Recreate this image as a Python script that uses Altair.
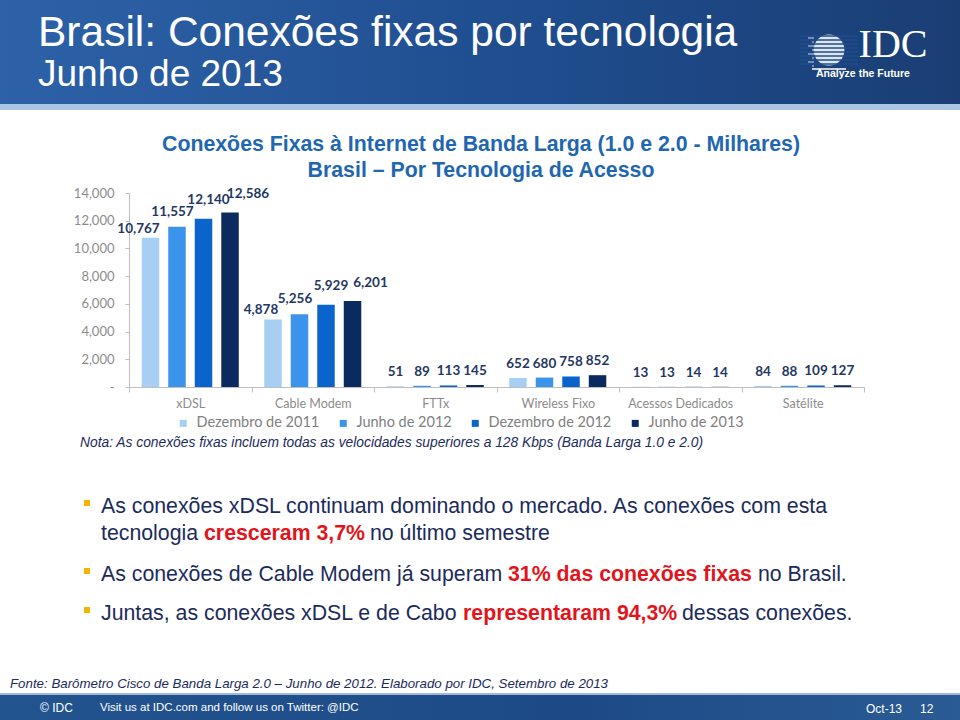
import altair as alt
import pandas as pd

# ---------------- data ----------------
CATS = ["xDSL", "Cable Modem", "FTTx", "Wireless Fixo", "Acessos Dedicados", "Satélite"]
PERIODS = ["Dezembro de 2011", "Junho de 2012", "Dezembro de 2012", "Junho de 2013"]
COLORS = ["#a7cff4", "#3b93ec", "#0b64cc", "#0b2a5f"]
DEZ_2011 = [10767, 4878, 51, 652, 13, 84]
JUN_2012 = [11557, 5256, 89, 680, 13, 88]
DEZ_2012 = [12140, 5929, 113, 758, 14, 109]
JUN_2013 = [12586, 6201, 145, 852, 14, 127]
Y_TICKS = [0, 2000, 4000, 6000, 8000, 10000, 12000, 14000]

HEADER_TITLE = "Brasil: Conexões fixas por tecnologia"
HEADER_SUB = "Junho de 2013"
LOGO = ["IDC", "Analyze the Future"]
CHART_TITLE = ["Conexões Fixas à Internet de Banda Larga (1.0 e 2.0 - Milhares)",
               "Brasil – Por Tecnologia de Acesso"]
NOTE = "Nota: As conexões fixas incluem todas as velocidades superiores a 128 Kbps (Banda Larga 1.0 e 2.0)"
BULLET_LINES = [
    [("As conexões xDSL continuam dominando o mercado. As conexões com esta", False)],
    [("tecnologia", False), ("cresceram 3,7%", True), ("no último semestre", False)],
    [("As conexões de Cable Modem já superam", False), ("31% das conexões fixas", True), ("no Brasil.", False)],
    [("Juntas, as conexões xDSL e de Cabo", False), ("representaram 94,3%", True), ("dessas conexões.", False)],
]
SOURCE = "Fonte: Barômetro Cisco de Banda Larga 2.0 – Junho de 2012. Elaborado por IDC, Setembro de 2013"
FOOTER = ["© IDC", "Visit us at IDC.com and follow us on Twitter: @IDC", "Oct-13", "12"]

series = [DEZ_2011, JUN_2012, DEZ_2012, JUN_2013]
rows = []
for p, vals in zip(PERIODS, series):
    for c, v in zip(CATS, vals):
        rows.append({"cat": c, "period": p, "value": v})
df = pd.DataFrame(rows)

# ---------------- layout helpers ----------------
X0, Y0 = 129, 193          # plot origin on the page
W, H = 735, 194            # plot size
SANS = "Liberation Sans"
CAL = "Lato"
NAVY = "#1b2b5c"
RED = "#e3141b"


def px(x):
    return x - X0


def py(y):
    return y - Y0


def text_layer(s, x, y, size, color, font=SANS, weight="normal", style="normal", align="left", opacity=1.0):
    return alt.Chart(alt.Data(values=[{"t": s}])).mark_text(
        align=align, baseline="middle", font=font, fontSize=size, color=color,
        fontWeight=weight, fontStyle=style, opacity=opacity
    ).encode(x=alt.value(px(x)), y=alt.value(py(y)), text="t:N")


def rect_layer(x1, x2, y1, y2, fill):
    return alt.Chart(alt.Data(values=[{}])).mark_rect(fill=fill, strokeWidth=0).encode(
        x=alt.value(px(x1)), x2=alt.value(px(x2)), y=alt.value(py(y1)), y2=alt.value(py(y2))
    )


def rule_layer(x1, x2, y, color, width=1.0, opacity=1.0):
    return alt.Chart(alt.Data(values=[{}])).mark_rule(color=color, strokeWidth=width, opacity=opacity).encode(
        x=alt.value(px(x1)), x2=alt.value(px(x2)), y=alt.value(py(y))
    )


header_grad = alt.LinearGradient(
    gradient="linear", x1=0, x2=1, y1=0, y2=0,
    stops=[alt.GradientStop(color="#2d62a8", offset=0),
           alt.GradientStop(color="#1f4d8e", offset=0.55),
           alt.GradientStop(color="#1a3e74", offset=1)])

layers = []
# header
layers.append(rect_layer(0, 960, 0, 105, header_grad))
layers.append(rect_layer(0, 960, 104, 110, "#a9c5e3"))
layers.append(text_layer(HEADER_TITLE, 38, 33, 42.5, "white"))
layers.append(text_layer(HEADER_SUB, 38, 75, 37, "white"))
# logo
layers.append(alt.Chart(alt.Data(values=[{}])).mark_circle(size=950, color="#dfe3ea", opacity=1).encode(
    x=alt.value(px(829)), y=alt.value(py(50))))
for i, yy in enumerate(range(36, 66, 4)):
    layers.append(rule_layer(800, 858, yy, "#1f4d8e", 1.4))
    layers.append(rule_layer(808 + (i % 2) * 4, 814, yy + 2, "white", 1.0, 0.8))
layers.append(rule_layer(812, 846, 69, "#c9d0dc", 2))
layers.append(text_layer(LOGO[0], 893, 45, 40, "white", font="Liberation Serif", align="center"))
layers.append(text_layer(LOGO[1], 863, 74, 10.5, "white", weight="bold", align="center"))

# chart title
layers.append(text_layer(CHART_TITLE[0], 481, 145, 21.3, "#1f67b1", weight="bold", align="center"))
layers.append(text_layer(CHART_TITLE[1], 481, 171, 21.3, "#1f67b1", weight="bold", align="center"))

# bars
x_enc = alt.X("cat:N", sort=CATS, title=None,
              scale=alt.Scale(paddingInner=0, paddingOuter=0),
              axis=alt.Axis(labelAngle=0, labelColor="#8c8c8c", labelFont=CAL, labelFontSize=12.5,
                            tickBand="extent", tickSize=5, tickColor="#bfbfbf", domainColor="#bfbfbf",
                            labelPadding=5, grid=False))
xo_enc = alt.XOffset("period:N", sort=PERIODS, scale=alt.Scale(paddingInner=0.34, paddingOuter=0.48))
y_enc = alt.Y("value:Q", title=None, scale=alt.Scale(domain=[0, 14000], nice=False),
              axis=alt.Axis(values=Y_TICKS, labelExpr="datum.value == 0 ? '-' : format(datum.value, ',')",
                            labelColor="#8c8c8c", labelFont=CAL, labelFontSize=13, tickSize=4,
                            tickColor="#bfbfbf", domainColor="#bfbfbf", labelPadding=11, grid=False))

bars = alt.Chart(df).mark_bar().encode(
    x=x_enc, xOffset=xo_enc, y=y_enc,
    color=alt.Color("period:N", sort=PERIODS, scale=alt.Scale(domain=PERIODS, range=COLORS),
                    legend=alt.Legend(title=None, orient="none", direction="horizontal", columns=4,
                                      legendX=47, legendY=223, symbolType="square", symbolSize=49,
                                      symbolStrokeWidth=0, labelFont=CAL, labelFontSize=14.5,
                                      labelColor="#808080", columnPadding=16, labelOffset=6))
)
layers.append(bars)

base_lbl = alt.Chart(df).encode(x=x_enc, xOffset=xo_enc, y=y_enc,
                                text=alt.Text("value:Q", format=","))
lbl_style = dict(font=CAL, fontWeight="bold", fontSize=13.5, color="#1f3864", baseline="middle")
layers.append(base_lbl.transform_filter(alt.datum.value < 1000).mark_text(dy=-14, **lbl_style))
offsets = [(-12, -9), (-4.5, -15), (5, -19), (18, -18.5)]
for p, (ddx, ddy) in zip(PERIODS, offsets):
    layers.append(base_lbl.transform_filter((alt.datum.value >= 1000) & (alt.datum.period == p))
                  .mark_text(dx=ddx, dy=ddy, **lbl_style))

# note
layers.append(text_layer(NOTE, 80, 443, 13.8, NAVY, style="italic"))

# bullets
line_y = [507, 534, 575, 614]
seg_x = [[101], [101, 204, 370], [101, 508, 758], [101, 463, 682]]
for i, (segs, yy, xs) in enumerate(zip(BULLET_LINES, line_y, seg_x)):
    if i != 1:
        layers.append(rect_layer(84, 90, yy - 7, yy - 1, "#f4b400"))
    for (s, hot), xx in zip(segs, xs):
        layers.append(text_layer(s, xx, yy, 21.3, RED if hot else NAVY,
                                 weight="bold" if hot else "normal"))

# source
layers.append(text_layer(SOURCE, 10, 684, 13.3, NAVY, style="italic"))

# footer
footer_grad = alt.LinearGradient(
    gradient="linear", x1=0, x2=1, y1=0, y2=0,
    stops=[alt.GradientStop(color="#22548f", offset=0),
           alt.GradientStop(color="#1d4a86", offset=0.6),
           alt.GradientStop(color="#2a5b95", offset=1)])
layers.append(rect_layer(0, 960, 693, 695, "#9fb9d6"))
layers.append(rect_layer(0, 960, 695, 720, footer_grad))
layers.append(text_layer(FOOTER[0], 40, 708, 12, "white"))
layers.append(text_layer(FOOTER[1], 100, 708, 11.5, "white"))
layers.append(text_layer(FOOTER[2], 866, 709, 12, "white"))
layers.append(text_layer(FOOTER[3], 920, 709, 12, "white"))

chart = alt.layer(*layers).properties(
    width=W, height=H,
    padding={"left": X0, "top": Y0, "right": 960 - X0 - W, "bottom": 720 - Y0 - H},
    autosize=alt.AutoSizeParams(type="none"),
    background="white",
).configure_view(strokeWidth=0)

chart.save("out.html", embed_options={"renderer": "svg", "actions": False})
